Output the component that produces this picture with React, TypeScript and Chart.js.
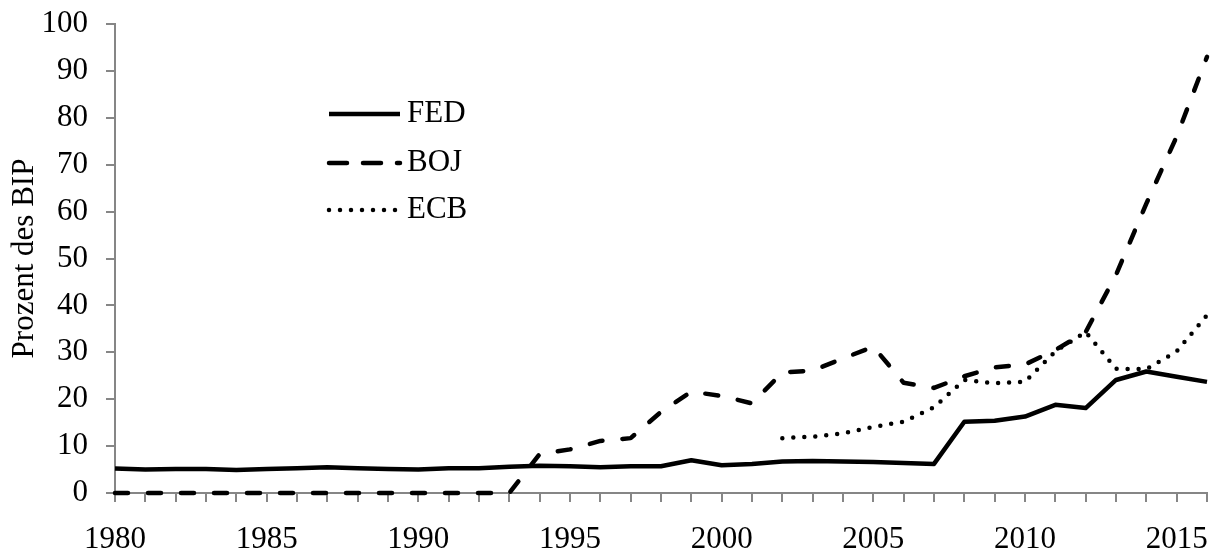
import React, { useEffect, useRef } from 'react';
import { Chart, registerables } from 'chart.js';

Chart.register(...registerables);

const years = [
  1980, 1981, 1982, 1983, 1984, 1985, 1986, 1987, 1988, 1989,
  1990, 1991, 1992, 1993, 1994, 1995, 1996, 1997, 1998, 1999,
  2000, 2001, 2002, 2003, 2004, 2005, 2006, 2007, 2008, 2009,
  2010, 2011, 2012, 2013, 2014, 2015, 2016,
];

const fedValues = [
  5.2, 5.0, 5.1, 5.1, 4.9, 5.1, 5.3, 5.5, 5.3, 5.1,
  5.0, 5.3, 5.3, 5.6, 5.8, 5.7, 5.5, 5.7, 5.7, 7.0,
  5.9, 6.2, 6.7, 6.8, 6.7, 6.6, 6.4, 6.2, 15.2, 15.4,
  16.3, 18.8, 18.1, 24.1, 25.9, 24.8, 23.7,
];

const bojValues = [
  0, 0, 0, 0, 0, 0, 0, 0, 0, 0,
  0, 0, 0, 0, 8.3, 9.3, 11.1, 11.7, 17.3, 21.6,
  20.7, 19.1, 25.7, 26.1, 28.7, 31.2, 23.5, 22.4, 24.9, 26.8,
  27.4, 30.5, 34.3, 46.5, 61.7, 76.0, 93.0,
];

const ecbValues = [
  null, null, null, null, null, null, null, null, null, null,
  null, null, null, null, null, null, null, null, null, null,
  null, null, 11.7, 12.0, 12.7, 14.1, 15.2, 18.3, 24.1, 23.4,
  23.7, 30.2, 34.3, 26.5, 26.4, 30.2, 37.9,
];

const seriesNames = ['FED', 'BOJ', 'ECB'];
const yAxisTitle = 'Prozent des BIP';
const yMin = 0;
const yMax = 100;
const yStep = 10;
const xLabelEvery = 5;

const FONT_FAMILY = "'Liberation Serif', 'Times New Roman', serif";
const FONT_SIZE = 31;
const AXIS_GRAY = '#868686';

const toPoints = (vals: (number | null)[]) =>
  years.map((yr, i) => ({ x: yr, y: vals[i] }));

const insideLegend = {
  id: 'insideLegend',
  afterDatasetsDraw(chart: any) {
    const { ctx } = chart;
    const x0 = 329;
    const x1 = 400;
    const tx = 407;
    const rows = [114, 163, 210];
    chart.data.datasets.forEach((ds: any, i: number) => {
      const y = rows[i];
      ctx.save();
      ctx.strokeStyle = ds.borderColor;
      ctx.lineWidth = ds.borderWidth;
      ctx.lineCap = ds.legendCap || 'butt';
      ctx.setLineDash(ds.legendDash || []);
      ctx.beginPath();
      ctx.moveTo(x0, y);
      ctx.lineTo(x1, y);
      ctx.stroke();
      ctx.setLineDash([]);
      ctx.fillStyle = '#000';
      ctx.font = `${FONT_SIZE}px ${FONT_FAMILY}`;
      ctx.textBaseline = 'middle';
      ctx.textAlign = 'left';
      ctx.fillText(ds.label, tx, y);
      ctx.restore();
    });
  },
};

export default function App() {
  const canvasRef = useRef<HTMLCanvasElement | null>(null);

  useEffect(() => {
    document.body.style.margin = '0';
    const canvas = canvasRef.current;
    if (!canvas) return;

    const chart = new Chart(canvas, {
      type: 'line',
      data: {
        datasets: [
          {
            label: seriesNames[0],
            data: toPoints(fedValues),
            borderColor: '#000',
            borderWidth: 4.5,
            borderJoinStyle: 'round',
            pointRadius: 0,
            tension: 0,
            clip: false,
            legendDash: [],
            legendCap: 'butt',
          } as any,
          {
            label: seriesNames[1],
            data: toPoints(bojValues),
            borderColor: '#000',
            borderWidth: 4.5,
            borderDash: [13, 20],
            borderCapStyle: 'round',
            borderJoinStyle: 'round',
            pointRadius: 0,
            tension: 0,
            clip: false,
            legendDash: [18, 16],
            legendCap: 'round',
          } as any,
          {
            label: seriesNames[2],
            data: toPoints(ecbValues),
            borderColor: '#000',
            borderWidth: 4.5,
            borderDash: [0, 11],
            borderCapStyle: 'round',
            borderJoinStyle: 'round',
            pointRadius: 0,
            tension: 0,
            spanGaps: false,
            clip: false,
            legendDash: [0, 11],
            legendCap: 'round',
          } as any,
        ],
      },
      options: {
        responsive: false,
        animation: false,
        events: [],
        layout: { padding: { left: 0, right: 7, top: 24, bottom: 0 } },
        plugins: {
          legend: { display: false },
          tooltip: { enabled: false },
        },
        scales: {
          x: {
            type: 'linear',
            min: years[0],
            max: years[years.length - 1],
            afterFit: (s: any) => {
              s.height = 57;
              s.paddingLeft = 0;
              s.paddingRight = 0;
              s.paddingTop = 0;
              s.paddingBottom = 0;
            },
            ticks: {
              stepSize: 1,
              autoSkip: false,
              maxRotation: 0,
              padding: 19,
              color: '#000',
              font: { family: FONT_FAMILY, size: FONT_SIZE },
              callback: (v: any) => (Number(v) % xLabelEvery === 0 ? String(v) : ''),
            },
            grid: {
              drawOnChartArea: false,
              drawTicks: true,
              tickLength: 9,
              color: AXIS_GRAY,
              lineWidth: 2,
            },
            border: { display: true, color: AXIS_GRAY, width: 2 },
          },
          y: {
            type: 'linear',
            min: yMin,
            max: yMax,
            afterFit: (s: any) => {
              s.width = 115;
              s.paddingTop = 0;
              s.paddingBottom = 0;
              s.paddingLeft = 0;
              s.paddingRight = 0;
            },
            ticks: {
              stepSize: yStep,
              padding: 18,
              color: '#000',
              font: { family: FONT_FAMILY, size: FONT_SIZE },
            },
            grid: {
              drawOnChartArea: false,
              drawTicks: true,
              tickLength: 9,
              color: AXIS_GRAY,
              lineWidth: 2,
            },
            border: { display: true, color: AXIS_GRAY, width: 2 },
            title: {
              display: true,
              text: yAxisTitle,
              color: '#000',
              font: { family: FONT_FAMILY, size: FONT_SIZE },
              padding: { top: 6, bottom: 0 },
            },
          },
        },
      } as any,
      plugins: [insideLegend],
    });

    return () => chart.destroy();
  }, []);

  return (
    <div style={{ width: 1214, height: 550, background: '#fff' }}>
      <canvas ref={canvasRef} width={1214} height={550} style={{ display: 'block' }} />
    </div>
  );
}
